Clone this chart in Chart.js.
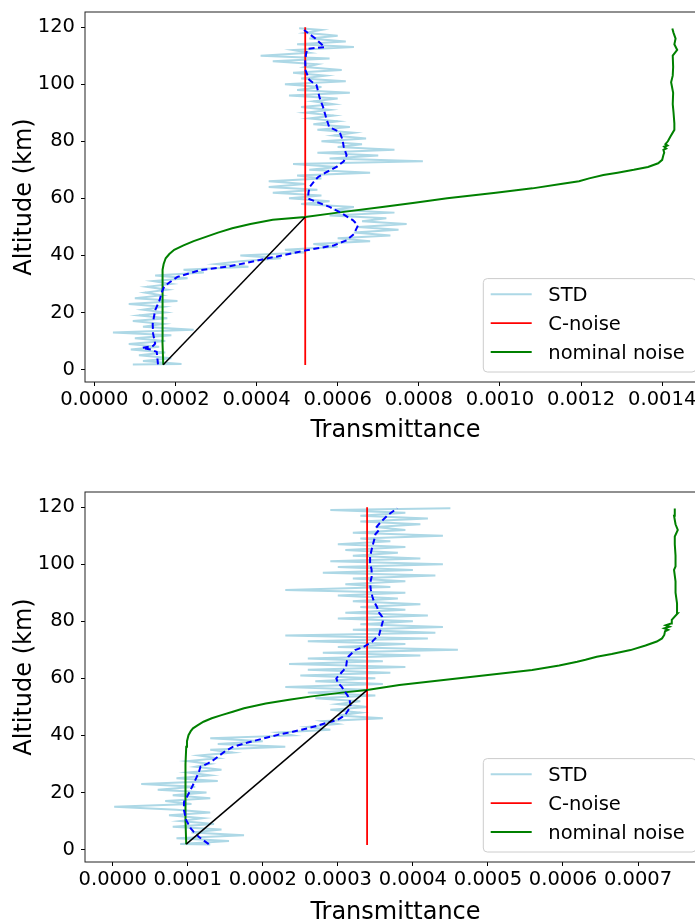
<!DOCTYPE html>
<html>
<head>
<meta charset="utf-8">
<title>Transmittance profiles</title>
<script src="https://cdn.jsdelivr.net/npm/chart.js@4.4.0/dist/chart.umd.min.js"></script>
<style>
    html, body { margin: 0; padding: 0; background: #fff; overflow: hidden; }
    body { width: 695px; height: 921px; position: relative; }
    canvas { position: absolute; left: 0; }
    #topChart { top: 0; }
    #bottomChart { top: 480px; }
</style>
</head>
<body>
<canvas id="topChart" width="720" height="460"></canvas>
<canvas id="bottomChart" width="720" height="460"></canvas>
<script>
// transmittance values are kept in units of 1e-4
const altTicks = [0, 20, 40, 60, 80, 100, 120];
const topTransTicks = [0, 2, 4, 6, 8, 10, 12, 14];
const bottomTransTicks = [0, 1, 2, 3, 4, 5, 6, 7];

// altitude grid of the STD profiles (km)
const stdAlt = [
    1.8, 2, 3, 4, 5, 6, 7, 8, 9, 10,
    11, 12, 13, 14, 15, 16, 17, 18, 19, 20,
    21, 22, 23, 24, 25, 26, 27, 28, 29, 30,
    31, 32, 33, 34, 35, 36, 37, 38, 39, 40,
    41, 42, 43, 44, 45, 46, 47, 48, 49, 50,
    51, 52, 53, 54, 55, 56, 57, 58, 59, 60,
    61, 62, 63, 64, 65, 66, 67, 68, 69, 70,
    71, 72, 73, 74, 75, 76, 77, 78, 79, 80,
    81, 82, 83, 84, 85, 86, 87, 88, 89, 90,
    91, 92, 93, 94, 95, 96, 97, 98, 99, 100,
    101, 102, 103, 104, 105, 106, 107, 108, 109, 110,
    111, 112, 113, 114, 115, 116, 117, 118, 119, 119.6
];

const topStd = [
    0.95, 2.15, 1.2, 1.9, 1.1, 1.75, 0.9, 1.6, 0.85, 1.75,
    1.0, 1.9, 0.46, 2.45, 1.2, 1.7, 0.95, 1.8, 1.1, 1.75,
    1.2, 1.7, 0.85, 2.05, 1.0, 1.65, 1.25, 1.8, 1.3, 1.9,
    1.45, 2.3, 1.5, 2.7, 2.2, 3.8, 3.0, 3.6, 4.6, 3.6,
    5.2, 4.7, 6.0, 5.4, 6.8, 6.0, 7.3, 6.4, 7.5, 6.5,
    7.7, 6.6, 7.2, 5.8, 7.4, 5.9, 6.4, 5.1, 5.8, 4.8,
    5.6, 4.4, 5.5, 4.3, 5.2, 4.3, 5.6, 5.0, 6.8, 5.3,
    6.0, 4.9, 8.1, 5.8, 7.0, 5.5, 7.4, 6.0, 6.6, 5.6,
    6.7, 5.9, 6.4, 5.5, 6.3, 5.4, 6.0, 5.3, 5.9, 5.2,
    5.8, 5.1, 5.9, 5.4, 6.0, 4.8, 6.3, 5.0, 5.6, 4.7,
    6.2, 5.1, 5.7, 4.9, 6.1, 5.2, 5.5, 4.4, 5.8, 4.1,
    5.3, 4.9, 6.4, 5.0, 6.2, 5.3, 6.0, 5.2, 5.6, 5.05
];

const bottomStd = [
    1.3, 0.9, 1.55, 0.85, 1.75, 1.05, 1.45, 0.8, 1.35, 0.9,
    1.2, 0.75, 1.3, 0.85, 0.02, 1.05, 0.7, 1.3, 0.8, 1.25,
    0.6, 1.1, 0.38, 1.4, 0.85, 1.3, 1.0, 1.45, 1.1, 1.3,
    1.0, 1.4, 1.15, 1.6, 1.3, 2.3, 1.4, 2.0, 1.3, 2.4,
    2.2, 2.9, 2.6, 3.0, 2.8, 3.6, 3.0, 3.3, 2.9, 3.4,
    3.0, 3.3, 2.7, 3.5, 2.6, 3.4, 2.3, 3.6, 2.7, 3.5,
    2.5, 3.7, 2.6, 3.9, 2.35, 3.6, 2.6, 4.1, 2.8, 4.6,
    3.0, 3.9, 2.6, 4.2, 2.3, 4.3, 3.2, 4.4, 3.3, 4.0,
    3.0, 4.2, 3.1, 3.9, 3.3, 4.1, 3.2, 3.8, 3.0, 3.9,
    2.3, 3.7, 3.1, 3.9, 3.2, 4.3, 2.8, 4.0, 3.0, 4.4,
    2.9, 4.1, 3.2, 3.8, 3.1, 3.9, 3.0, 3.7, 3.3, 4.4,
    3.2, 3.9, 3.5, 4.1, 3.3, 4.2, 3.3, 3.9, 2.9, 4.5
];

// smoothed STD (dashed blue)
const topMeanAlt = [1.8, 3.3, 6.2, 7.0, 7.6, 8.3, 9.1, 12.6, 16, 20.8, 24.3, 27, 29, 30.5, 32.5, 34.8, 36.2, 38.9, 40.5, 41.8,
    43.5, 45.3, 47.5, 50.5, 52.3, 55.2, 57, 59.9, 62, 64, 66.3, 67.5, 69, 71, 73, 75.1, 78, 80.5, 83.2, 85,
    88, 92, 95, 99.6, 101.5, 104.8, 108, 110.5, 112.4, 113, 116, 119];
const topMean = [1.57, 1.56, 1.54, 1.40, 1.18, 1.45, 1.5, 1.45, 1.44, 1.5, 1.61, 1.66, 1.72, 1.85, 2.05, 2.6, 3.34, 4.25, 4.8, 5.23,
    5.9, 6.22, 6.4, 6.5, 6.38, 6.05, 5.8, 5.27, 5.28, 5.31, 5.44, 5.52, 5.7, 5.97, 6.15, 6.22, 6.15, 6.12, 6.05, 5.79,
    5.72, 5.64, 5.56, 5.48, 5.3, 5.21, 5.2, 5.22, 5.25, 5.68, 5.45, 5.17];

const bottomMeanAlt = [1.9, 4.4, 6.2, 7.4, 10.3, 13.8, 16.7, 18.5, 20.5, 23.2, 25.5, 27.3, 29, 30.2, 31.5, 33.1, 34.5, 36, 37.5, 38.9,
    40.2, 41.3, 42.5, 43.6, 44.8, 45.4, 46.5, 47.7, 50.1, 52, 53.6, 55.5, 57.1, 58.5, 60, 61.5, 63, 64.1, 66, 67.6,
    69.9, 71.1, 72.9, 74, 75.2, 78.1, 80, 81.6, 83, 85.1, 87, 88.7, 91, 93.3, 95.5, 98, 100.5, 102.7, 106.2, 109.1,
    110.5, 112, 113.2, 115, 117.3, 119.6];
const bottomMean = [1.28, 1.15, 1.08, 1.04, 0.98, 0.95, 0.95, 0.99, 1.03, 1.08, 1.12, 1.15, 1.17, 1.27, 1.35, 1.43, 1.5, 1.6, 1.8, 2.0,
    2.2, 2.4, 2.6, 2.75, 2.9, 2.99, 3.06, 3.11, 3.17, 3.16, 3.14, 3.09, 3.05, 3.0, 2.98, 3.03, 3.08, 3.11, 3.12, 3.14,
    3.23, 3.35, 3.46, 3.5, 3.55, 3.58, 3.6, 3.59, 3.55, 3.52, 3.48, 3.46, 3.44, 3.43, 3.45, 3.45, 3.43, 3.43, 3.46, 3.49,
    3.5, 3.55, 3.52, 3.58, 3.67, 3.79];

// nominal noise profiles
const topNominalAlt = [1.7, 10, 20, 30, 35, 37, 39, 40.5, 42, 43.5, 45, 46.5, 48, 49.5, 51, 52.5, 53.5, 55, 57, 58.5,
    60, 62, 63.5, 65, 66, 67, 68.2, 69, 70, 71, 72.3, 73.5, 75.2, 76, 77, 77.5, 78.1, 78.5, 79, 80,
    81.6, 84, 86.3, 90, 93, 97, 100.7, 103, 106, 110, 112, 114, 116, 118, 119.5];
const topNominal = [1.70, 1.68, 1.68, 1.68, 1.69, 1.71, 1.76, 1.85, 1.97, 2.2, 2.45, 2.75, 3.05, 3.4, 3.85, 4.4, 5.2, 6.0, 7.1, 7.9,
    8.7, 9.9, 10.8, 11.5, 11.95, 12.2, 12.55, 12.9, 13.3, 13.65, 13.9, 14.0, 14.03, 14.05, 14.03, 14.1, 14.05, 14.13, 14.08, 14.14,
    14.2, 14.3, 14.3, 14.28, 14.26, 14.27, 14.22, 14.26, 14.27, 14.26, 14.37, 14.3, 14.33, 14.28, 14.25];

const bottomNominalAlt = [1.9, 10, 20, 30, 36, 38, 40.1, 41.5, 42.5, 43.5, 44.8, 46, 47.1, 48.3, 49.5, 51.2, 52.5, 53.6, 55, 55.9,
    57.7, 59.4, 61.2, 62.9, 64.5, 65.8, 66.5, 67.6, 68.5, 69.9, 71.5, 72.9, 74, 75.2, 76.5, 77, 77.5, 78.1, 78.6, 79.2,
    80.5, 82.8, 86.3, 90, 94, 98, 99.2, 103, 107, 109.7, 112, 114, 117, 119.5];
const bottomNominal = [0.98, 0.97, 0.97, 0.97, 0.98, 0.99, 1.01, 1.04, 1.07, 1.13, 1.21, 1.32, 1.45, 1.6, 1.75, 2.04, 2.35, 2.63, 3.05, 3.39,
    3.82, 4.41, 5.0, 5.59, 5.95, 6.19, 6.3, 6.45, 6.65, 6.90, 7.1, 7.25, 7.32, 7.35, 7.36, 7.40, 7.35, 7.42, 7.37, 7.44,
    7.45, 7.53, 7.52, 7.50, 7.50, 7.48, 7.50, 7.50, 7.49, 7.49, 7.53, 7.50, 7.48, 7.49];

// constant C-noise level and the knee line joining it to the nominal floor
const cNoiseAlt = [1.6, 120];
const topCNoise = 5.2;
const bottomCNoise = 3.39;
const topKneeAlt = [1.7, 53.5];
const topKnee = [1.70, 5.2];
const bottomKneeAlt = [1.9, 55.9];
const bottomKnee = [0.98, 3.39];

Chart.defaults.font.family = "'DejaVu Sans', sans-serif";
Chart.defaults.color = '#000';

function toPoints(alts, vals) {
    return alts.map((a, i) => ({ x: vals[i], y: a }));
}

// axes frame plus a matplotlib-like legend in the lower right corner
const frameLegend = {
    id: 'frameLegend',
    afterDatasetsDraw(chart) {
        const { ctx, chartArea: a } = chart;
        ctx.save();
        ctx.strokeStyle = '#222';
        ctx.lineWidth = 1;
        ctx.strokeRect(a.left, a.top, a.right - a.left, a.bottom - a.top);

        const left = a.left + 398.3, top = a.bottom - 103.4;
        const right = a.right - 10, bottom = a.bottom - 10;
        ctx.beginPath();
        ctx.roundRect(left, top, right - left, bottom - top, 4);
        ctx.fillStyle = 'rgba(255,255,255,0.8)';
        ctx.fill();
        ctx.strokeStyle = '#cccccc';
        ctx.stroke();

        ctx.font = '19.5px "DejaVu Sans"';
        ctx.textBaseline = 'alphabetic';
        chart.data.datasets.filter(d => d.label).forEach((d, i) => {
            const y = top + 15.7 + i * 28.85;
            ctx.beginPath();
            ctx.moveTo(left + 7.4, y);
            ctx.lineTo(left + 48.4, y);
            ctx.strokeStyle = d.borderColor;
            ctx.lineWidth = d.borderWidth;
            ctx.stroke();
            ctx.fillStyle = '#000';
            ctx.fillText(d.label, left + 65, y + 7.1);
        });
        ctx.restore();
    }
};

function buildChart(id, p) {
    return new Chart(document.getElementById(id), {
        type: 'scatter',
        data: {
            datasets: [{
                label: 'STD',
                data: toPoints(stdAlt, p.std),
                borderColor: '#add8e6',
                borderWidth: 2,
                order: 5
            }, {
                label: 'C-noise',
                data: toPoints(cNoiseAlt, [p.cNoise, p.cNoise]),
                borderColor: '#ff0000',
                borderWidth: 1.8,
                order: 4
            }, {
                label: 'nominal noise',
                data: toPoints(p.nominalAlt, p.nominal),
                borderColor: '#008000',
                borderWidth: 2,
                order: 3
            }, {
                data: toPoints(p.meanAlt, p.mean),
                borderColor: '#0000ff',
                borderWidth: 2,
                borderDash: [6, 3.5],
                order: 2
            }, {
                data: toPoints(p.kneeAlt, p.knee),
                borderColor: '#000000',
                borderWidth: 1.5,
                order: 1
            }].map(ds => Object.assign(ds, { showLine: true, pointRadius: 0, tension: 0, fill: false }))
        },
        options: {
            responsive: false,
            animation: false,
            events: [],
            layout: { padding: { top: 12, right: 14, left: 0, bottom: 0 } },
            plugins: { legend: { display: false }, tooltip: { enabled: false } },
            scales: {
                x: {
                    type: 'linear',
                    min: p.xMin,
                    max: p.xMax,
                    afterFit: s => { s.height = 78; s.paddingLeft = 0; s.paddingRight = 0; },
                    afterBuildTicks: s => { s.ticks = p.xTicks.map(v => ({ value: v })); },
                    border: { display: false },
                    grid: { drawOnChartArea: false, drawTicks: true, tickLength: 4, tickColor: '#000' },
                    ticks: {
                        padding: 2,
                        maxRotation: 0,
                        autoSkip: false,
                        font: { size: 19.5 },
                        callback: v => (v / 10000).toFixed(4)
                    },
                    title: {
                        display: true,
                        text: 'Transmittance',
                        font: { size: 24 },
                        padding: { top: 0, bottom: p.xTitlePad }
                    }
                },
                y: {
                    type: 'linear',
                    min: -4.35,
                    max: 125.3,
                    afterFit: s => { s.width = 85; s.paddingTop = 0; s.paddingBottom = 0; },
                    afterBuildTicks: s => { s.ticks = altTicks.map(v => ({ value: v })); },
                    border: { display: false },
                    grid: { drawOnChartArea: false, drawTicks: true, tickLength: 4, tickColor: '#000' },
                    ticks: { padding: 6, font: { size: 19.5 } },
                    title: {
                        display: true,
                        text: 'Altitude (km)',
                        font: { size: 24 },
                        padding: { top: 10, bottom: 0 }
                    }
                }
            }
        },
        plugins: [frameLegend]
    });
}

buildChart('topChart', {
    std: topStd, mean: topMean, meanAlt: topMeanAlt,
    nominal: topNominal, nominalAlt: topNominalAlt,
    cNoise: topCNoise, knee: topKnee, kneeAlt: topKneeAlt,
    xMin: -0.229, xMax: 15.08, xTicks: topTransTicks, xTitlePad: 15
});

buildChart('bottomChart', {
    std: bottomStd, mean: bottomMean, meanAlt: bottomMeanAlt,
    nominal: bottomNominal, nominalAlt: bottomNominalAlt,
    cNoise: bottomCNoise, knee: bottomKnee, kneeAlt: bottomKneeAlt,
    xMin: -0.369, xMax: 7.906, xTicks: bottomTransTicks, xTitlePad: 12.6
});
</script>
</body>
</html>
